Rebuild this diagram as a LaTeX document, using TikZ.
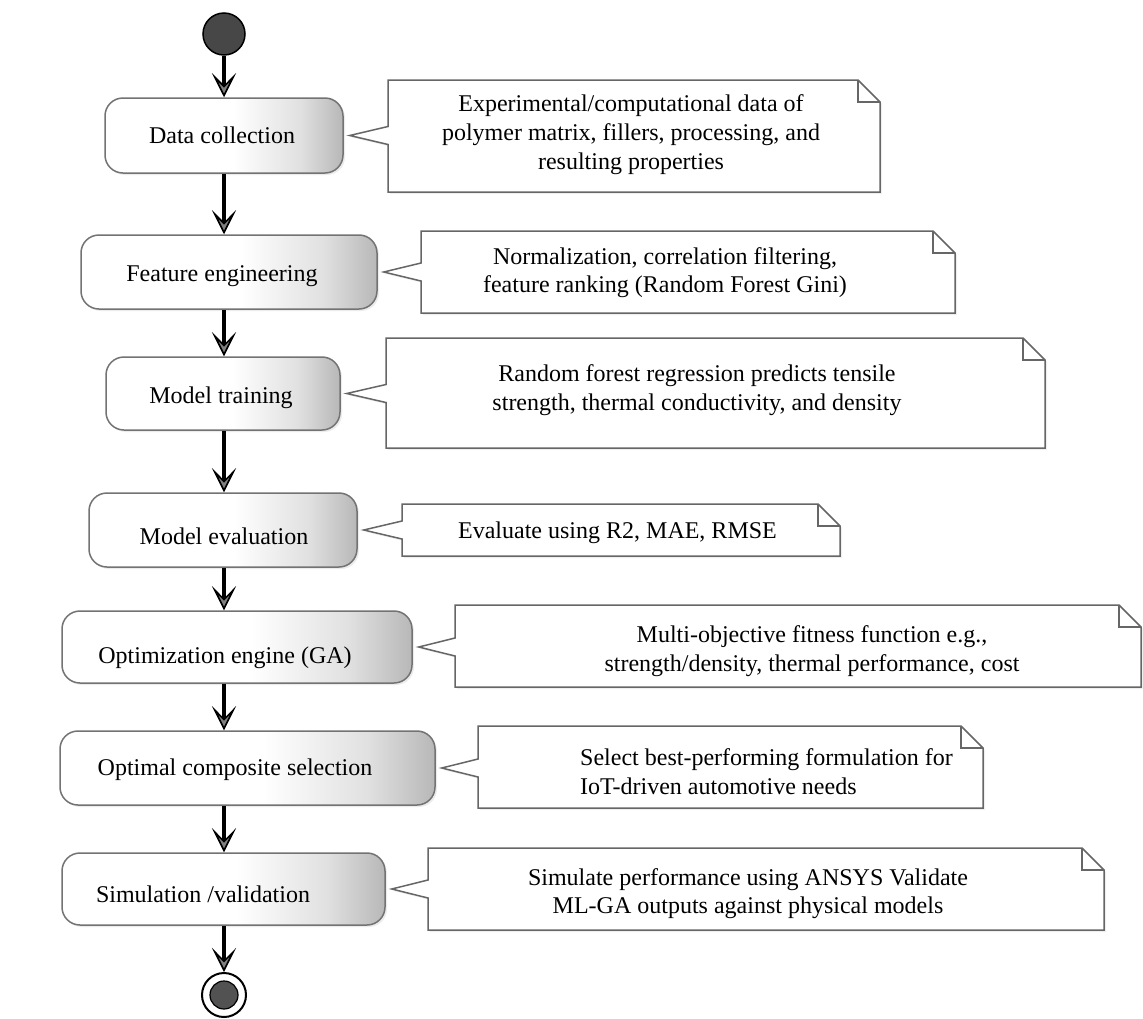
\documentclass[tikz,border=0pt]{standalone}
\usepackage{fontspec}
\setmainfont{Liberation Serif}
\usetikzlibrary{arrows.meta,shadows,calc}
\pgfdeclarehorizontalshading{actshade}{100bp}{color(0bp)=(white); color(25bp)=(white); color(52bp)=(white); color(66bp)=(black!12); color(75bp)=(black!28); color(100bp)=(black!28)}
\newcommand\drawnote[5]{%
  \coordinate (#1t) at ($(#1.east)+(6,0)$);
  \coordinate (#1l) at (#2,#3);
  \draw[noteshape] (#2,#3) -- ({#4-22},#3) -- (#4,{#3+22}) -- (#4,#5) -- (#2,#5)
     -- ($(#1l|-#1t)+(0,9)$) -- (#1t) -- ($(#1l|-#1t)+(0,-9)$) -- cycle;
  \draw[foldline] ({#4-22},#3) -- ({#4-22},{#3+22}) -- (#4,{#3+22});
}
\begin{document}
\begin{tikzpicture}[x=1pt,y=-1pt,
  actbox/.style={draw=black!55, line width=1.5pt, rounded corners=18pt, shading=actshade, inner sep=0pt,
    drop shadow={opacity=0.15, shadow xshift=2pt, shadow yshift=-2pt}},
  acttext/.style={font=\fontsize{24}{28.6}\selectfont, anchor=base, inner sep=0pt},
  notetext/.style={font=\fontsize{24}{28.6}\selectfont, align=center, inner sep=0pt},
  noteshape/.style={draw=black!60, line width=1.5pt, fill=white, line join=miter,
    drop shadow={opacity=0.12, shadow xshift=2pt, shadow yshift=-2pt}},
  foldline/.style={draw=black!60, line width=1.5pt},
  flow/.style={line width=4pt, draw=black, -{Stealth[length=24pt, width=24pt, inset=12pt, line width=1.6pt, fill=black!50]}},
  startnode/.style={circle, fill=black!72, draw=black, line width=1.5pt, minimum size=42pt, inner sep=0pt},
  endouter/.style={circle, fill=white, draw=black, line width=2pt, minimum size=44pt, inner sep=0pt},
  endinner/.style={circle, fill=black!68, draw=black, line width=1.2pt, minimum size=28pt, inner sep=0pt}]
\useasboundingbox[fill=white] (0,0) rectangle (1143,1018);

% start / end
\node[startnode] (start) at (224,34) {};
\node[endouter] (end) at (224,995) {};
\node[endinner] (endin) at (224,995) {};

% activity boxes
\node[actbox, minimum width=238pt, minimum height=75pt] (b1) at (224,135.5) {};
\node[actbox, minimum width=296pt, minimum height=74pt] (b2) at (229,272) {};
\node[actbox, minimum width=234pt, minimum height=73pt] (b3) at (223,393.5) {};
\node[actbox, minimum width=268pt, minimum height=74pt] (b4) at (223,530) {};
\node[actbox, minimum width=350pt, minimum height=72pt] (b5) at (237,647) {};
\node[actbox, minimum width=375pt, minimum height=74pt] (b6) at (247.5,768) {};
\node[actbox, minimum width=323pt, minimum height=72pt] (b7) at (223.5,889) {};

\node[acttext] (t1) at (222,143) {Data collection};
\node[acttext] (t2) at (222,281) {Feature engineering};
\node[acttext] (t3) at (221,403) {Model training};
\node[acttext] (t4) at (224,544) {Model evaluation};
\node[acttext] (t5) at (225,663) {Optimization engine (GA)};
\node[acttext] (t6) at (235,775) {Optimal composite selection};
\node[acttext] (t7) at (203,902) {Simulation /validation};

% notes
\drawnote{b1}{388}{80}{880}{192}
\drawnote{b2}{421}{231}{955}{313}
\drawnote{b3}{386}{338}{1045}{448}
\drawnote{b4}{402}{504}{840}{556}
\drawnote{b5}{455}{605}{1141}{687}
\drawnote{b6}{478}{726}{983}{808}
\drawnote{b7}{428}{848}{1104}{930}

\node[notetext] (n1) at (631,134.6) {Experimental/computational data of\\polymer matrix, fillers, processing, and\\resulting properties};
\node[notetext] (n2) at (665,272.6) {Normalization, correlation filtering,\\feature ranking (Random Forest Gini)};
\node[notetext] (n3) at (697,390.3) {Random forest regression predicts tensile\\strength, thermal conductivity, and density};
\node[notetext, anchor=base] (n4) at (617.5,538) {Evaluate using R2, MAE, RMSE};
\node[notetext] (n5) at (812,651.3) {Multi-objective fitness function e.g.,\\strength/density, thermal performance, cost};
\node[notetext, align=left, anchor=west] (n6) at (580,771.6) {Select best-performing formulation for\\IoT-driven automotive needs};
\node[notetext] (n7) at (748,893.6) {Simulate performance using ANSYS Validate\\ML-GA outputs against physical models};

% flow
\draw[flow] (start) -- (b1.north -| start);
\draw[flow] (b1.south -| start) -- (b2.north -| start);
\draw[flow] (b2.south -| start) -- (b3.north -| start);
\draw[flow] (b3.south -| start) -- (b4.north -| start);
\draw[flow] (b4.south -| start) -- (b5.north -| start);
\draw[flow] (b5.south -| start) -- (b6.north -| start);
\draw[flow] (b6.south -| start) -- (b7.north -| start);
\draw[flow] (b7.south -| start) -- (end);
\end{tikzpicture}
\end{document}
